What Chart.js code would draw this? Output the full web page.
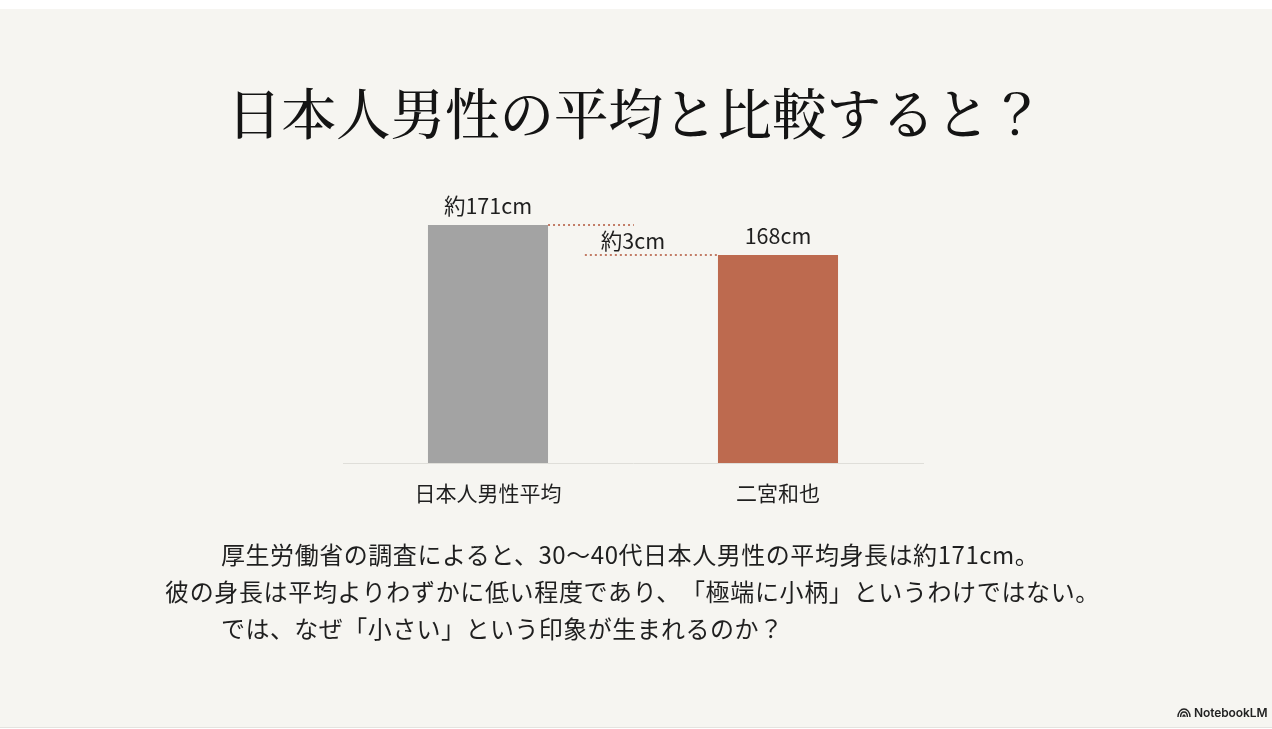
<!DOCTYPE html>
<html lang="ja">
<head>
<meta charset="utf-8">
<script src="https://cdn.jsdelivr.net/npm/chart.js@4"></script>
<style>
html, body { margin: 0; padding: 0; background: #fff; overflow: hidden; }
#slide { position: absolute; left: 0; top: 9px; width: 1272px; height: 718px; background: #f6f5f1; border-bottom: 1px solid #e4e3df; }
#lineChart { position: absolute; left: 0; top: 0; }
.txt { position: absolute; white-space: nowrap; color: #1f1f1f; font-family: "Noto Sans CJK JP", sans-serif; }
#title { left: 227px; top: 72px; font-family: "Noto Serif CJK JP", "Noto Sans CJK JP", serif; font-size: 54.5px; font-weight: 500; line-height: 78px; color: #141414; }
.body { font-size: 24px; line-height: 32px; text-spacing-trim: space-all; }
#mark { position: absolute; left: 1177px; top: 707px; }
#brand { left: 1194px; top: 705px; font-family: Inter, sans-serif; font-size: 12px; line-height: 16px; font-weight: 600; letter-spacing: -.1px; color: #222; }
</style>
</head>
<body>
<div id="slide"></div>
<canvas id="lineChart" width="1272" height="729"></canvas>
<div class="txt" id="title">日本人男性の平均と比較すると？</div>
<div class="txt body" style="left:221px;top:538px;letter-spacing:.55px">厚生労働省の調査によると、30〜40代日本人男性の平均身長は約171cm。</div>
<div class="txt body" style="left:165px;top:575px;letter-spacing:.65px">彼の身長は平均よりわずかに低い程度であり、「極端に小柄」というわけではない。</div>
<div class="txt body" style="left:221px;top:612px;letter-spacing:.45px">では、なぜ「小さい」という印象が生まれるのか？</div>
<svg id="mark" width="14" height="12" viewBox="0 0 14 12" fill="none" stroke="#222" stroke-width="1.4">
<path d="M1 10C1 5 4 2 7 2s6 3 6 8"/><path d="M3.6 10C3.6 7 5 5 7 5s3.4 2 3.4 5"/><path d="M6 10c0-1 .4-2 1-2s1 1 1 2"/>
</svg>
<div class="txt" id="brand">NotebookLM</div>
<script>
const categories = ['日本人男性平均', '二宮和也'];
const heights = [171, 168];
const valueLabels = ['約171cm', '168cm'];
const gapLabel = '約3cm';

const barColors = ['#a3a3a3', '#bd6a4f'];
const labelFont = '21.5px "Noto Sans CJK JP", sans-serif';

// dotted lines use a hidden linear x axis laid over the two categories
const dottedLine = (from, to, value) => ({
    type: 'line',
    xAxisID: 'xGap',
    data: [{ x: from, y: value }, { x: to, y: value }],
    borderColor: '#c27c67',
    borderWidth: 2,
    borderDash: [2, 3],
    pointRadius: 0
});

const barLabels = {
    id: 'barLabels',
    afterDatasetsDraw(chart) {
        const ctx = chart.ctx;
        const bars = chart.getDatasetMeta(0).data;
        ctx.save();
        ctx.font = labelFont;
        ctx.fillStyle = '#1f1f1f';
        ctx.textAlign = 'center';
        ctx.textBaseline = 'middle';
        bars.forEach((bar, i) => ctx.fillText(valueLabels[i], bar.x, bar.y - 19));
        ctx.fillText(gapLabel, chart.scales.xGap.getPixelForValue(0.5), chart.scales.y.getPixelForValue(heights[0]) + 16);
        ctx.restore();
    }
};

new Chart('lineChart', {
    type: 'bar',
    data: {
        labels: categories,
        datasets: [
            {
                data: heights,
                backgroundColor: barColors,
                grouped: false,
                barPercentage: 0.414,
                categoryPercentage: 1
            },
            dottedLine(0.207, 0.503, heights[0]),
            dottedLine(0.334, 0.797, heights[1])
        ]
    },
    options: {
        responsive: false,
        animation: false,
        layout: { padding: { left: 343, right: 349, top: 185, bottom: 0 } },
        scales: {
            x: {
                afterFit: scale => { scale.height = 266; },
                grid: { display: false, drawTicks: false },
                border: { display: true, color: '#dfded9', width: 1 },
                ticks: {
                    color: '#1f1f1f',
                    padding: 17,
                    maxRotation: 0,
                    font: { size: 21, family: '"Noto Sans CJK JP", sans-serif' }
                }
            },
            xGap: { type: 'linear', axis: 'x', display: false, offset: false, min: -0.5, max: 1.5 },
            y: { display: false, min: 147.2, max: 175 }
        },
        plugins: {
            legend: { display: false },
            tooltip: { enabled: false }
        }
    },
    plugins: [barLabels]
});
</script>
</body>
</html>
